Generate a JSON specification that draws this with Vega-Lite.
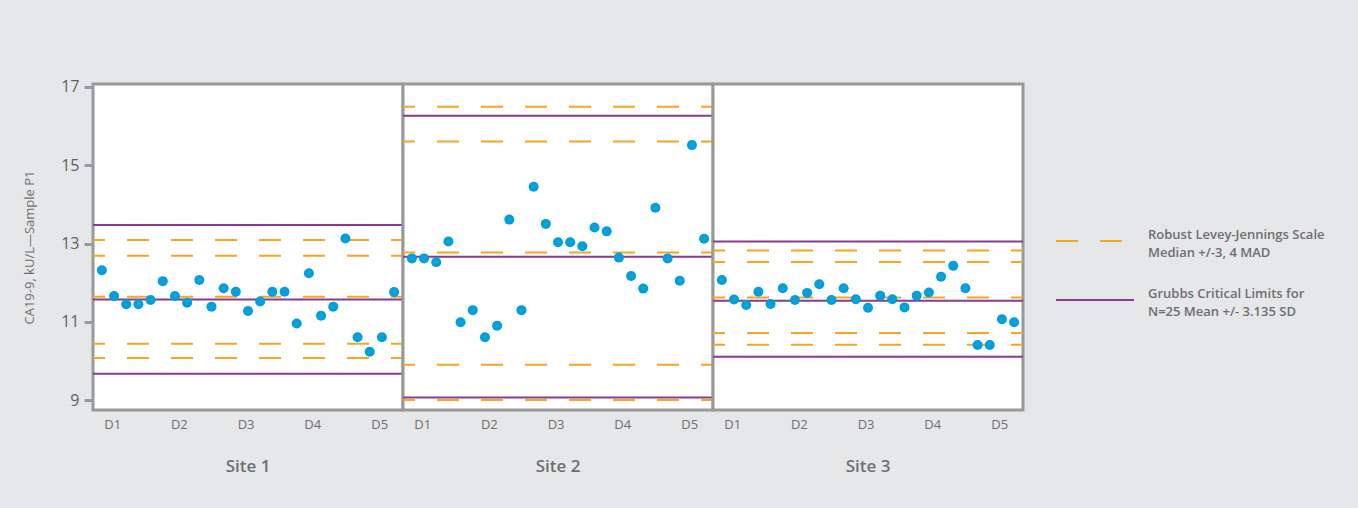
{
  "$schema": "https://vega.github.io/schema/vega-lite/v6.json",
  "background": "#e6e7e8",
  "padding": {"left": 23, "top": 78, "right": 36, "bottom": 36},
  "bounds": "flush",
  "data": {
    "values": [
      {"site": "Site 1", "run": 1, "value": 12.32},
      {"site": "Site 1", "run": 2, "value": 11.66},
      {"site": "Site 1", "run": 3, "value": 11.45},
      {"site": "Site 1", "run": 4, "value": 11.45},
      {"site": "Site 1", "run": 5, "value": 11.56},
      {"site": "Site 1", "run": 6, "value": 12.04},
      {"site": "Site 1", "run": 7, "value": 11.66},
      {"site": "Site 1", "run": 8, "value": 11.49},
      {"site": "Site 1", "run": 9, "value": 12.07},
      {"site": "Site 1", "run": 10, "value": 11.39},
      {"site": "Site 1", "run": 11, "value": 11.86},
      {"site": "Site 1", "run": 12, "value": 11.77},
      {"site": "Site 1", "run": 13, "value": 11.28},
      {"site": "Site 1", "run": 14, "value": 11.52},
      {"site": "Site 1", "run": 15, "value": 11.77},
      {"site": "Site 1", "run": 16, "value": 11.77},
      {"site": "Site 1", "run": 17, "value": 10.96},
      {"site": "Site 1", "run": 18, "value": 12.24},
      {"site": "Site 1", "run": 19, "value": 11.16},
      {"site": "Site 1", "run": 20, "value": 11.39},
      {"site": "Site 1", "run": 21, "value": 13.13},
      {"site": "Site 1", "run": 22, "value": 10.61},
      {"site": "Site 1", "run": 23, "value": 10.24},
      {"site": "Site 1", "run": 24, "value": 10.61},
      {"site": "Site 1", "run": 25, "value": 11.76},
      {"site": "Site 2", "run": 1, "value": 12.62},
      {"site": "Site 2", "run": 2, "value": 12.62},
      {"site": "Site 2", "run": 3, "value": 12.52},
      {"site": "Site 2", "run": 4, "value": 13.05},
      {"site": "Site 2", "run": 5, "value": 10.99},
      {"site": "Site 2", "run": 6, "value": 11.30},
      {"site": "Site 2", "run": 7, "value": 10.61},
      {"site": "Site 2", "run": 8, "value": 10.90},
      {"site": "Site 2", "run": 9, "value": 13.61},
      {"site": "Site 2", "run": 10, "value": 11.30},
      {"site": "Site 2", "run": 11, "value": 14.45},
      {"site": "Site 2", "run": 12, "value": 13.50},
      {"site": "Site 2", "run": 13, "value": 13.03},
      {"site": "Site 2", "run": 14, "value": 13.03},
      {"site": "Site 2", "run": 15, "value": 12.93},
      {"site": "Site 2", "run": 16, "value": 13.41},
      {"site": "Site 2", "run": 17, "value": 13.31},
      {"site": "Site 2", "run": 18, "value": 12.64},
      {"site": "Site 2", "run": 19, "value": 12.17},
      {"site": "Site 2", "run": 20, "value": 11.85},
      {"site": "Site 2", "run": 21, "value": 13.91},
      {"site": "Site 2", "run": 22, "value": 12.62},
      {"site": "Site 2", "run": 23, "value": 12.05},
      {"site": "Site 2", "run": 24, "value": 15.51},
      {"site": "Site 2", "run": 25, "value": 13.12},
      {"site": "Site 3", "run": 1, "value": 12.07},
      {"site": "Site 3", "run": 2, "value": 11.57},
      {"site": "Site 3", "run": 3, "value": 11.43},
      {"site": "Site 3", "run": 4, "value": 11.77},
      {"site": "Site 3", "run": 5, "value": 11.46},
      {"site": "Site 3", "run": 6, "value": 11.86},
      {"site": "Site 3", "run": 7, "value": 11.56},
      {"site": "Site 3", "run": 8, "value": 11.74},
      {"site": "Site 3", "run": 9, "value": 11.96},
      {"site": "Site 3", "run": 10, "value": 11.56},
      {"site": "Site 3", "run": 11, "value": 11.86},
      {"site": "Site 3", "run": 12, "value": 11.58},
      {"site": "Site 3", "run": 13, "value": 11.36},
      {"site": "Site 3", "run": 14, "value": 11.67},
      {"site": "Site 3", "run": 15, "value": 11.58},
      {"site": "Site 3", "run": 16, "value": 11.37},
      {"site": "Site 3", "run": 17, "value": 11.67},
      {"site": "Site 3", "run": 18, "value": 11.75},
      {"site": "Site 3", "run": 19, "value": 12.15},
      {"site": "Site 3", "run": 20, "value": 12.43},
      {"site": "Site 3", "run": 21, "value": 11.86},
      {"site": "Site 3", "run": 22, "value": 10.41},
      {"site": "Site 3", "run": 23, "value": 10.41},
      {"site": "Site 3", "run": 24, "value": 11.07},
      {"site": "Site 3", "run": 25, "value": 10.99},
      {"site": "Site 1", "kind": "Robust Levey-Jennings", "value": 13.09},
      {"site": "Site 1", "kind": "Robust Levey-Jennings", "value": 12.69},
      {"site": "Site 1", "kind": "Robust Levey-Jennings", "value": 11.64},
      {"site": "Site 1", "kind": "Robust Levey-Jennings", "value": 10.44},
      {"site": "Site 1", "kind": "Robust Levey-Jennings", "value": 10.08},
      {"site": "Site 1", "kind": "Grubbs", "value": 13.47},
      {"site": "Site 1", "kind": "Grubbs", "value": 11.57},
      {"site": "Site 1", "kind": "Grubbs", "value": 9.68},
      {"site": "Site 2", "kind": "Robust Levey-Jennings", "value": 16.49},
      {"site": "Site 2", "kind": "Robust Levey-Jennings", "value": 15.60},
      {"site": "Site 2", "kind": "Robust Levey-Jennings", "value": 12.77},
      {"site": "Site 2", "kind": "Robust Levey-Jennings", "value": 9.91},
      {"site": "Site 2", "kind": "Robust Levey-Jennings", "value": 9.01},
      {"site": "Site 2", "kind": "Grubbs", "value": 16.26},
      {"site": "Site 2", "kind": "Grubbs", "value": 12.66},
      {"site": "Site 2", "kind": "Grubbs", "value": 9.07},
      {"site": "Site 3", "kind": "Robust Levey-Jennings", "value": 12.82},
      {"site": "Site 3", "kind": "Robust Levey-Jennings", "value": 12.53},
      {"site": "Site 3", "kind": "Robust Levey-Jennings", "value": 11.62},
      {"site": "Site 3", "kind": "Robust Levey-Jennings", "value": 10.72},
      {"site": "Site 3", "kind": "Robust Levey-Jennings", "value": 10.42},
      {"site": "Site 3", "kind": "Grubbs", "value": 13.05},
      {"site": "Site 3", "kind": "Grubbs", "value": 11.54},
      {"site": "Site 3", "kind": "Grubbs", "value": 10.11}
    ]
  },
  "facet": {
    "column": {
      "field": "site",
      "type": "nominal",
      "title": null,
      "header": {
        "labelOrient": "bottom",
        "labelFont": "Open Sans",
        "labelFontSize": 17,
        "labelFontWeight": 600,
        "labelColor": "#6d6e71",
        "labelPadding": 28
      }
    }
  },
  "spacing": 0,
  "spec": {
    "width": 310,
    "height": 326,
    "layer": [
      {
        "transform": [{"filter": "isValid(datum.kind)"}],
        "mark": {"type": "rule", "strokeWidth": 2, "strokeDashOffset": 10},
        "encoding": {
          "y": {
            "field": "value",
            "type": "quantitative",
            "title": "CA19-9, kU/L\u2014Sample P1",
            "scale": {"domain": [8.753, 17.069], "nice": false, "zero": false}
          },
          "stroke": {
            "field": "kind",
            "type": "nominal",
            "scale": {"domain": ["Robust Levey-Jennings", "Grubbs"], "range": ["#f5a623", "#8b3a8e"]},
            "legend": {
              "title": null,
              "orient": "none",
              "legendX": 962,
              "legendY": 117,
              "symbolType": "stroke",
              "symbolSize": 6084,
              "symbolStrokeWidth": 2,
              "labelExpr": "datum.label == 'Grubbs' ? ['Grubbs Critical Limits for', 'N=25 Mean +/- 3.135 SD'] : ['Robust Levey-Jennings Scale', 'Median +/-3, 4 MAD']",
              "labelFont": "Open Sans",
              "labelFontSize": 13,
              "labelFontWeight": 600,
              "labelColor": "#6d6e71",
              "labelOffset": 13,
              "labelLimit": 300,
              "rowPadding": -45,
              "encode": {"labels": {"update": {"lineHeight": {"value": 18}, "dy": {"value": -6}}}}
            }
          },
          "strokeDash": {
            "field": "kind",
            "type": "nominal",
            "scale": {"domain": ["Robust Levey-Jennings", "Grubbs"], "range": [[22, 22], [1, 0]]},
            "legend": {
              "title": null,
              "orient": "none",
              "legendX": 962,
              "legendY": 117,
              "symbolType": "stroke",
              "symbolSize": 6084,
              "symbolStrokeWidth": 2,
              "labelExpr": "datum.label == 'Grubbs' ? ['Grubbs Critical Limits for', 'N=25 Mean +/- 3.135 SD'] : ['Robust Levey-Jennings Scale', 'Median +/-3, 4 MAD']",
              "labelFont": "Open Sans",
              "labelFontSize": 13,
              "labelFontWeight": 600,
              "labelColor": "#6d6e71",
              "labelOffset": 13,
              "labelLimit": 300,
              "rowPadding": -45,
              "encode": {"labels": {"update": {"lineHeight": {"value": 18}, "dy": {"value": -6}}}}
            }
          }
        }
      },
      {
        "transform": [{"filter": "isValid(datum.run)"}],
        "mark": {"type": "circle", "size": 100, "opacity": 1, "color": "#00a0dc"},
        "encoding": {
          "x": {
            "field": "run",
            "type": "quantitative",
            "title": null,
            "scale": {"domain": [0.27, 25.73], "nice": false, "zero": false},
            "axis": {
              "values": [1.85, 7.32, 12.8, 18.27, 23.78],
              "labelExpr": "datum.value < 5 ? 'D1' : datum.value < 10 ? 'D2' : datum.value < 15 ? 'D3' : datum.value < 20 ? 'D4' : 'D5'",
              "ticks": false,
              "domain": false,
              "grid": false,
              "labelFlush": false,
              "labelPadding": 8,
              "labelFont": "Open Sans",
              "labelFontSize": 13,
              "labelColor": "#6d6e71"
            }
          },
          "y": {
            "field": "value",
            "type": "quantitative",
            "title": "CA19-9, kU/L\u2014Sample P1",
            "scale": {"domain": [8.753, 17.069], "nice": false, "zero": false},
            "axis": {
              "values": [9, 11, 13, 15, 17],
              "domain": false,
              "grid": false,
              "tickColor": "#98999b",
              "tickWidth": 3,
              "tickSize": 9,
              "labelPadding": 5,
              "labelFont": "Open Sans",
              "labelFontSize": 16,
              "labelColor": "#5f6063",
              "titleFont": "Open Sans",
              "titleFontSize": 13,
              "titleFontWeight": "normal",
              "titleColor": "#6d6e71",
              "titlePadding": 24
            }
          }
        }
      }
    ]
  },
  "config": {
    "font": "Open Sans",
    "view": {"stroke": "#98999b", "strokeWidth": 3, "fill": "white"}
  }
}
